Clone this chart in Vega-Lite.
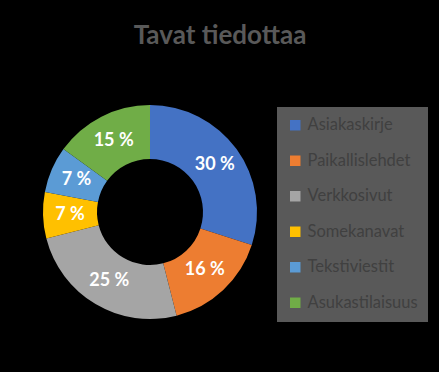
{
  "$schema": "https://vega.github.io/schema/vega-lite/v6.json",
  "autosize": "none",
  "width": 214,
  "height": 214,
  "padding": {"left": 43, "top": 105, "right": 182, "bottom": 53},
  "background": "#000000",
  "config": {"view": {"stroke": null}, "font": "Lato"},
  "title": {
    "text": "Tavat tiedottaa",
    "font": "Lato",
    "fontSize": 26,
    "fontWeight": "bold",
    "color": "#595959",
    "anchor": "middle",
    "frame": "group",
    "dx": 70,
    "offset": 56
  },
  "data": {
    "values": [
      {"k": "Asiakaskirje", "v": 30, "o": 1, "label": "30 %"},
      {"k": "Paikallislehdet", "v": 16, "o": 2, "label": "16 %"},
      {"k": "Verkkosivut", "v": 25, "o": 3, "label": "25 %"},
      {"k": "Somekanavat", "v": 7, "o": 4, "label": "7 %"},
      {"k": "Tekstiviestit", "v": 7, "o": 5, "label": "7 %"},
      {"k": "Asukastilaisuus", "v": 15, "o": 6, "label": "15 %"}
    ]
  },
  "encoding": {
    "theta": {"field": "v", "type": "quantitative", "stack": true},
    "order": {"field": "o", "type": "quantitative"}
  },
  "layer": [
    {
      "mark": {"type": "arc", "outerRadius": 107, "innerRadius": 53},
      "encoding": {
        "color": {
          "field": "k",
          "type": "nominal",
          "sort": null,
          "scale": {
            "domain": ["Asiakaskirje", "Paikallislehdet", "Verkkosivut", "Somekanavat", "Tekstiviestit", "Asukastilaisuus"],
            "range": ["#4472C4", "#ED7D31", "#A5A5A5", "#FFC000", "#5B9BD5", "#70AD47"]
          },
          "legend": {
            "title": null,
            "orient": "none",
            "legendX": 234,
            "legendY": 2,
            "fillColor": "#595959",
            "padding": 10,
            "symbolType": "square",
            "symbolSize": 110,
            "symbolStrokeWidth": 0,
            "labelFont": "Lato",
            "labelFontSize": 16.5,
            "labelColor": "#404040",
            "labelOffset": 4,
            "rowPadding": 18.5,
            "labelLimit": 200
          }
        }
      }
    },
    {
      "mark": {"type": "text", "radius": 80, "font": "Lato", "fontSize": 18, "fontWeight": "bold", "color": "#ffffff"},
      "encoding": {"text": {"field": "label"}}
    }
  ]
}
